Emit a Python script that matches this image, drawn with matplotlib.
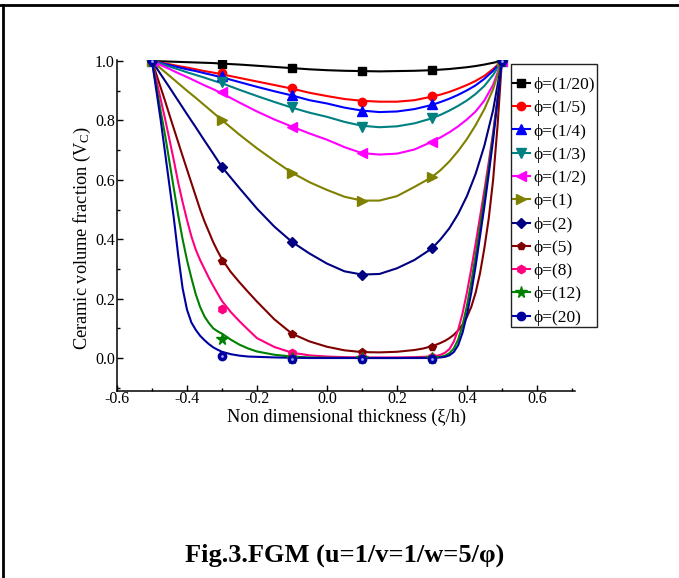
import numpy as np
import matplotlib
matplotlib.use("Agg")
import matplotlib.pyplot as plt
from matplotlib.lines import Line2D
from matplotlib.ticker import MultipleLocator

plt.rcParams['font.family'] = ['Liberation Serif', 'DejaVu Serif']
plt.rcParams['mathtext.fontset'] = 'custom'
plt.rcParams['mathtext.rm'] = 'Liberation Serif'
plt.rcParams['mathtext.it'] = 'Liberation Serif:italic'

# ---------------- data ----------------
labels = ['\u03d5=(1/20)', '\u03d5=(1/5)', '\u03d5=(1/4)', '\u03d5=(1/3)', '\u03d5=(1/2)',
          '\u03d5=(1)', '\u03d5=(2)', '\u03d5=(5)', '\u03d5=(8)', '\u03d5=(12)', '\u03d5=(20)']
colors = ['#000000', '#ff0000', '#0000ff', '#008080', '#ff00ff',
          '#808000', '#000080', '#800000', '#ff0080', '#008000', '#0000a0']
markers = ['s', 'o', '^', 'v', '<', '>', 'D', 'p', 'h', '*', 'o']

# marker positions (thickness) and values
x_pts = [-0.5, -0.3, -0.1, 0.1, 0.3, 0.5]
v_pts = [
    [1.0, 0.989, 0.976, 0.965, 0.969, 1.0],
    [1.0, 0.959, 0.908, 0.863, 0.882, 1.0],
    [1.0, 0.949, 0.886, 0.832, 0.854, 1.0],
    [1.0, 0.928, 0.844, 0.779, 0.807, 1.0],
    [1.0, 0.897, 0.779, 0.690, 0.728, 1.0],
    [1.0, 0.801, 0.622, 0.529, 0.609, 1.0],
    [1.0, 0.643, 0.389, 0.279, 0.369, 1.0],
    [1.0, 0.326, 0.080, 0.019, 0.038, 1.0],
    [1.0, 0.165, 0.016, 0.003, 0.004, 1.0],
    [1.0, 0.064, 0.001, 0.000, 0.000, 1.0],
    [1.0, 0.008, -0.002, -0.002, -0.002, 1.0],
]

# fitted curves
# gentle curves (phi = 1/20 ... 2)
x_coarse = [-0.5, -0.475, -0.45, -0.425, -0.4, -0.375, -0.35, -0.325, -0.3,
            -0.25, -0.2, -0.15, -0.1, -0.05, 0.0, 0.05, 0.1, 0.15, 0.2, 0.25,
            0.3, 0.325, 0.35, 0.375, 0.4, 0.425, 0.45, 0.475, 0.5]
v_coarse = [
    [1.0, 0.999, 0.998, 0.997, 0.996, 0.995, 0.994, 0.993, 0.991,
     0.988, 0.984, 0.980, 0.976, 0.972, 0.969, 0.967, 0.966, 0.965, 0.966, 0.967,
     0.969, 0.971, 0.973, 0.976, 0.979, 0.983, 0.988, 0.994, 1.0],
    [1.0, 0.994, 0.989, 0.983, 0.978, 0.972, 0.966, 0.961, 0.955,
     0.943, 0.931, 0.919, 0.907, 0.893, 0.882, 0.872, 0.866, 0.863, 0.863, 0.868,
     0.880, 0.887, 0.896, 0.907, 0.919, 0.933, 0.950, 0.973, 1.0],
    [1.0, 0.993, 0.986, 0.979, 0.972, 0.966, 0.959, 0.952, 0.945,
     0.929, 0.913, 0.898, 0.884, 0.868, 0.857, 0.843, 0.833, 0.828, 0.830, 0.838,
     0.852, 0.862, 0.873, 0.886, 0.901, 0.918, 0.940, 0.967, 1.0],
    [1.0, 0.991, 0.981, 0.972, 0.962, 0.953, 0.944, 0.934, 0.925,
     0.903, 0.882, 0.862, 0.843, 0.826, 0.812, 0.795, 0.782, 0.777, 0.780, 0.790,
     0.807, 0.819, 0.833, 0.849, 0.867, 0.889, 0.916, 0.953, 1.0],
    [1.0, 0.986, 0.973, 0.959, 0.946, 0.932, 0.918, 0.905, 0.891,
     0.860, 0.830, 0.803, 0.779, 0.756, 0.735, 0.710, 0.690, 0.685, 0.688, 0.702,
     0.728, 0.743, 0.760, 0.780, 0.803, 0.830, 0.867, 0.920, 1.0],
    [1.0, 0.975, 0.950, 0.925, 0.900, 0.876, 0.851, 0.826, 0.801,
     0.752, 0.706, 0.664, 0.624, 0.592, 0.566, 0.543, 0.530, 0.530, 0.545, 0.576,
     0.609, 0.633, 0.662, 0.697, 0.737, 0.784, 0.838, 0.905, 1.0],
    [1.0, 0.955, 0.911, 0.866, 0.821, 0.777, 0.732, 0.688, 0.643,
     0.572, 0.503, 0.442, 0.391, 0.352, 0.318, 0.292, 0.281, 0.283, 0.302, 0.330,
     0.369, 0.400, 0.437, 0.485, 0.545, 0.620, 0.715, 0.835, 1.0],
]

# steep curves (phi = 5 ... 20)
x_fine = [-0.5, -0.4875, -0.475, -0.4625, -0.45, -0.4375, -0.425, -0.4125, -0.4,
          -0.3875, -0.375, -0.3625, -0.35, -0.3375, -0.325, -0.3125, -0.3,
          -0.275, -0.25, -0.225, -0.2,
          -0.15, -0.1, -0.05, 0.0, 0.05, 0.1, 0.15, 0.2, 0.25, 0.275,
          0.3, 0.3125, 0.325, 0.3375, 0.35, 0.3625, 0.375, 0.3875, 0.4,
          0.4125, 0.425, 0.4375, 0.45, 0.4625, 0.475, 0.4875, 0.5]
v_fine = [
    # phi = 5
    [1.0, 0.955, 0.91, 0.865, 0.818, 0.772, 0.726, 0.68, 0.635,
     0.59, 0.545, 0.50, 0.46, 0.425, 0.39, 0.36, 0.333,
     0.29, 0.255, 0.222, 0.19,
     0.13, 0.082, 0.056, 0.038, 0.026, 0.020, 0.019, 0.021, 0.027, 0.032,
     0.040, 0.045, 0.051, 0.058, 0.067, 0.078, 0.093, 0.112, 0.138,
     0.172, 0.22, 0.285, 0.37, 0.47, 0.60, 0.78, 1.0],
    # phi = 8
    [1.0, 0.935, 0.87, 0.805, 0.735, 0.665, 0.59, 0.525, 0.465,
     0.41, 0.365, 0.33, 0.30, 0.27, 0.243, 0.217, 0.192,
     0.155, 0.124, 0.095, 0.067,
     0.037, 0.018, 0.009, 0.005, 0.003, 0.002, 0.002, 0.002, 0.003, 0.004,
     0.005, 0.007, 0.011, 0.018, 0.03, 0.055, 0.095, 0.15, 0.22,
     0.30, 0.385, 0.475, 0.565, 0.66, 0.76, 0.875, 1.0],
    # phi = 12
    [1.0, 0.915, 0.83, 0.75, 0.66, 0.57, 0.48, 0.40, 0.33,
     0.27, 0.215, 0.172, 0.14, 0.118, 0.10, 0.09, 0.082,
     0.062, 0.045, 0.032, 0.022,
     0.011, 0.005, 0.002, 0.001, 0.0005, 0.0, 0.0, 0.0, 0.0005, 0.001,
     0.001, 0.002, 0.004, 0.008, 0.016, 0.032, 0.062, 0.11, 0.175,
     0.255, 0.345, 0.44, 0.54, 0.64, 0.75, 0.87, 1.0],
    # phi = 20
    [1.0, 0.90, 0.80, 0.69, 0.58, 0.47, 0.345, 0.235, 0.163,
     0.12, 0.095, 0.075, 0.060, 0.047, 0.036, 0.028, 0.021,
     0.013, 0.008, 0.005, 0.004,
     0.002, 0.001, 0.0, 0.0, 0.0, 0.0, 0.0, 0.0, 0.0, 0.0,
     0.0, 0.001, 0.002, 0.004, 0.009, 0.02, 0.043, 0.085, 0.145,
     0.22, 0.31, 0.41, 0.51, 0.62, 0.735, 0.865, 1.0],
]

x_ticks = [-0.6, -0.4, -0.2, 0.0, 0.2, 0.4, 0.6]
y_ticks = [0.0, 0.2, 0.4, 0.6, 0.8, 1.0]

# ---------------- figure ----------------
W, H = 679, 578
fig = plt.figure(figsize=(W / 100, H / 100), dpi=100)
ax_l, ax_r, ax_b, ax_t = 117, 575, 391, 59.5
ax = fig.add_axes([ax_l / W, 1 - ax_b / H, (ax_r - ax_l) / W, (ax_b - ax_t) / H])

handles = []
for i in range(len(labels)):
    if i < len(v_coarse):
        ax.plot(x_coarse, v_coarse[i], color=colors[i], lw=1.5, zorder=2)
    else:
        ax.plot(x_fine, v_fine[i - len(v_coarse)], color=colors[i], lw=1.5, zorder=2)
    ms = 6
    if markers[i] == '*':
        ms = 8.5
    elif markers[i] == 'D':
        ms = 5
    elif markers[i] in ('^', 'v', '<', '>'):
        ms = 6.5
    ax.plot(x_pts, v_pts[i], linestyle='none', marker=markers[i], ms=ms,
            color=colors[i], markeredgecolor=colors[i], zorder=3)
    if i == len(labels) - 1:
        ax.plot(x_pts, v_pts[i], linestyle='none', marker='o', ms=2.0,
                color='#a0a0ff', markeredgewidth=0, zorder=4)
    handles.append(Line2D([], [], color=colors[i], lw=1.5, marker=markers[i],
                          ms=ms, markeredgecolor=colors[i]))

ax.set_xlim(-0.6, 0.709)
ax.set_ylim(-0.111, 1.005)
ax.set_xticks(x_ticks)
ax.set_yticks(y_ticks)
ax.set_xticklabels(['%.1f' % t for t in x_ticks])
ax.set_yticklabels(['%.1f' % t for t in y_ticks])
ax.xaxis.set_minor_locator(MultipleLocator(0.1))
ax.yaxis.set_minor_locator(MultipleLocator(0.1))
ax.tick_params(which='both', direction='in', labelsize=11.5, width=1.0)
ax.tick_params(which='major', length=4)
ax.tick_params(which='minor', length=2.5)
ax.tick_params(axis='x', pad=0.3)
ax.tick_params(axis='y', pad=1.5)
for s in ['top', 'right']:
    ax.spines[s].set_visible(False)
for s in ['left', 'bottom']:
    ax.spines[s].set_linewidth(1.1)

ax.set_xlabel('Non dimensional thickness (\u03be/h)', fontsize=13.2, labelpad=1)
ax.set_ylabel('Ceramic volume fraction (V$_\\mathrm{C}$)', fontsize=13.2)
ax.yaxis.set_label_coords((93 - ax_l) / (ax_r - ax_l), (ax_b - 238) / (ax_b - ax_t))

leg = ax.legend(handles, labels, loc='upper left',
                bbox_to_anchor=(511 / W, 1 - 64 / H), bbox_transform=fig.transFigure,
                fontsize=12.5, frameon=True, fancybox=False, framealpha=1,
                edgecolor='#222222', borderpad=0.1, labelspacing=0.41,
                handlelength=1.0, handletextpad=0.19, borderaxespad=0,
                title=' ', title_fontsize=3.5)
leg.get_frame().set_linewidth(1.0)

fig.text(345 / W, 1 - 555 / H, 'Fig.3.FGM (u=1/v=1/w=5/\u03c6)', ha='center', va='center',
         fontsize=19, fontweight='bold')

# figure border (top and left edges)
fig.add_artist(Line2D([0, 1], [1 - 4.5 / H] * 2, transform=fig.transFigure,
                      color='black', lw=2.0))
fig.add_artist(Line2D([2.5 / W] * 2, [0, 1 - 4.5 / H], transform=fig.transFigure,
                      color='black', lw=2.0))

fig.savefig('out.png', dpi=100)
